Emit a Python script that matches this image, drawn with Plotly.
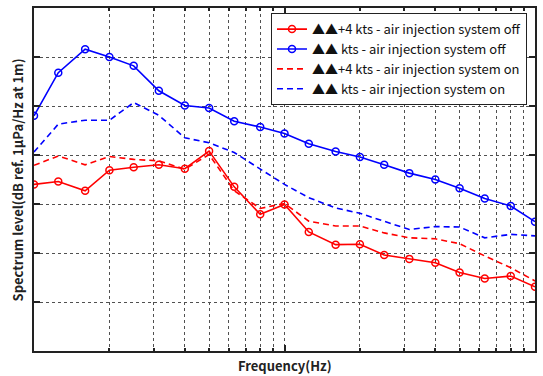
import plotly.graph_objects as go

freq = [10, 12.5, 16, 20, 25, 31.5, 40, 50, 63, 80, 100, 125, 160, 200, 250, 315, 400, 500, 630, 800, 1000]

red_off = [104.0, 104.6, 102.7, 106.9, 107.5, 108.0, 107.2, 110.8, 103.5, 97.9, 99.9, 94.3, 91.7, 91.8, 89.6, 88.8, 88.0, 86.0, 84.8, 85.3, 83.1]
blue_off = [118.0, 126.8, 131.6, 130.0, 128.2, 123.1, 120.1, 119.6, 116.9, 115.7, 114.4, 112.3, 110.7, 109.6, 108.0, 106.3, 105.0, 103.2, 101.1, 99.6, 96.4]
red_on = [107.9, 109.8, 108.0, 109.7, 109.1, 108.8, 107.1, 110.1, 102.7, 99.1, 100.1, 96.5, 95.5, 95.5, 94.1, 93.1, 92.9, 91.9, 89.4, 87.0, 84.3]
blue_on = [110.6, 116.3, 117.1, 117.1, 120.7, 118.1, 113.5, 112.5, 110.5, 107.1, 104.0, 101.3, 99.2, 98.1, 96.4, 94.8, 95.4, 95.3, 93.1, 93.8, 93.5]

names = ["▲▲+4 kts - air injection system off",
         "▲▲ kts - air injection system off",
         "▲▲+4 kts - air injection system on",
         "▲▲ kts - air injection system on"]

major_x = [10, 100, 1000]
minor_x = [20, 30, 40, 50, 60, 70, 80, 90, 200, 300, 400, 500, 600, 700, 800, 900]
y_ticks = [70, 80, 90, 100, 110, 120, 130, 140]

RED = "#ff0000"
BLUE = "#0000ff"

fig = go.Figure()
fig.add_trace(go.Scatter(x=freq, y=red_off, name=names[0], mode="lines+markers",
                         line=dict(color=RED, width=1.6),
                         marker=dict(symbol="circle-open", size=7, color=RED, line=dict(width=1.5, color=RED))))
fig.add_trace(go.Scatter(x=freq, y=blue_off, name=names[1], mode="lines+markers",
                         line=dict(color=BLUE, width=1.6),
                         marker=dict(symbol="circle-open", size=7, color=BLUE, line=dict(width=1.5, color=BLUE))))
fig.add_trace(go.Scatter(x=freq, y=red_on, name=names[2], mode="lines",
                         line=dict(color=RED, width=1.6, dash="6px,4px")))
fig.add_trace(go.Scatter(x=freq, y=blue_on, name=names[3], mode="lines",
                         line=dict(color=BLUE, width=1.6, dash="6px,4px")))

grid = dict(showgrid=True, gridcolor="#505050", gridwidth=1, griddash="dot")

fig.update_layout(
    width=543, height=376,
    margin=dict(l=34, r=6, t=7, b=25),
    paper_bgcolor="white", plot_bgcolor="white",
    font=dict(family="Noto Sans CJK KR", color="#222222"),
    showlegend=True,
    legend=dict(x=0.984, y=0.985, xanchor="right", yanchor="top",
                bgcolor="white", bordercolor="#222222", borderwidth=1,
                font=dict(size=13, family="Noto Sans CJK KR", color="#111111"),
                tracegroupgap=0, itemwidth=30),
    xaxis=dict(type="log", range=[1, 3], tickmode="array", tickvals=major_x,
               showticklabels=False, ticks="inside", ticklen=6, tickwidth=1.5, tickcolor="#222222",
               showline=True, linecolor="#222222", linewidth=2, mirror="ticks",
               zeroline=False, **grid,
               minor=dict(tickmode="array", tickvals=minor_x, ticks="inside", ticklen=3,
                          tickcolor="#222222", showgrid=True, gridcolor="#505050",
                          gridwidth=1, griddash="dot")),
    yaxis=dict(range=[70, 140], tickmode="array", tickvals=y_ticks,
               showticklabels=False, ticks="inside", ticklen=6, tickwidth=1.5, tickcolor="#222222",
               showline=True, linecolor="#222222", linewidth=2, mirror="ticks",
               zeroline=False, **grid),
)

fig.add_annotation(text="<b>Frequency(Hz)</b>", xref="paper", yref="paper",
                   x=0.5, y=-0.042, xanchor="center", yanchor="middle", showarrow=False,
                   font=dict(size=13, family="Noto Sans CJK KR", color="#222222"))
fig.add_annotation(text="<b>Spectrum level(dB ref. 1μPa/Hz at 1m)</b>", xref="paper", yref="paper",
                   x=-0.032, y=0.5, xanchor="center", yanchor="middle", textangle=-90, showarrow=False,
                   font=dict(size=13, family="Noto Sans CJK KR", color="#222222"))

fig.write_html("out.html")
